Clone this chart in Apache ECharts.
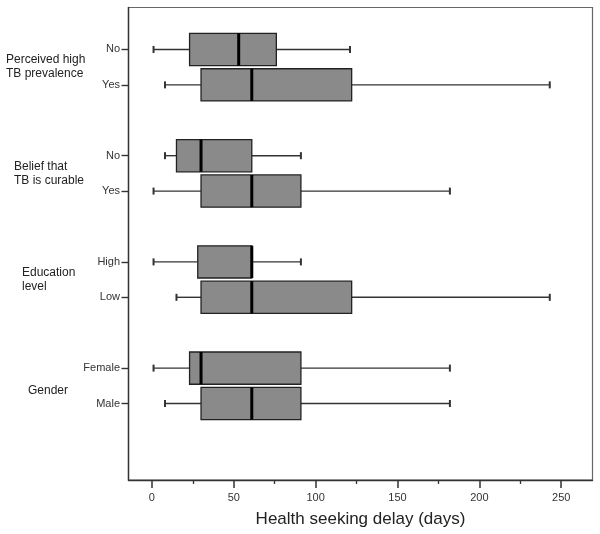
<!DOCTYPE html>
<html>
<head>
<meta charset="utf-8">
<script src="https://cdn.jsdelivr.net/npm/echarts@6/dist/echarts.min.js"></script>
<style>
html,body{margin:0;padding:0;background:#fff;}
#chart{width:600px;height:534px;}
</style>
</head>
<body>
<div id="chart"></div>
<script>
// Groups and their two categories (top to bottom)
var groups = ['Perceived high\nTB prevalence', 'Belief that\nTB is curable', 'Education\nlevel', 'Gender'];
var categories = [['No', 'Yes'], ['No', 'Yes'], ['High', 'Low'], ['Female', 'Male']];
// Box statistics per category: [min, Q1, median, Q3, max] in days
var stats = [
  [[1, 23, 53, 76, 121], [8, 30, 61, 122, 243]],
  [[8, 15, 30, 61, 91], [1, 30, 61, 91, 182]],
  [[1, 28, 61, 61, 91], [15, 30, 61, 122, 243]],
  [[1, 23, 30, 91, 182], [8, 30, 61, 91, 182]]
];
var xTicks = [0, 50, 100, 150, 200, 250];
var xMinorTicks = [25, 75, 125, 175, 225];
var xTitle = 'Health seeking delay (days)';

// build rows: slot index with a gap row between groups
var rows = [];
var labelMap = {};
groups.forEach(function (g, gi) {
  categories[gi].forEach(function (c, ci) {
    var pos = gi * 3 + ci + 1;
    labelMap[pos] = c;
    var s = stats[gi][ci];
    rows.push([pos, s[0], s[1], s[2], s[3], s[4]]);
  });
});
var rowPositions = rows.map(function (r) { return r[0]; });

var chart = echarts.init(document.getElementById('chart'));

function renderBox(params, api) {
  var pos = api.value(0);
  var vmin = api.value(1), q1 = api.value(2), med = api.value(3), q3 = api.value(4), vmax = api.value(5);
  var pMin = api.coord([vmin, pos]);
  var pQ1 = api.coord([q1, pos]);
  var pMed = api.coord([med, pos]);
  var pQ3 = api.coord([q3, pos]);
  var pMax = api.coord([vmax, pos]);
  var h = api.size([0, 0.91])[1];
  var cap = 7;
  var y = pMin[1];
  var lineStyle = { stroke: '#333', lineWidth: 1.4 };
  return {
    type: 'group',
    children: [
      { type: 'line', shape: { x1: pMin[0], y1: y, x2: pQ1[0], y2: y }, style: lineStyle },
      { type: 'line', shape: { x1: pQ3[0], y1: y, x2: pMax[0], y2: y }, style: lineStyle },
      { type: 'line', shape: { x1: pMin[0], y1: y - cap / 2, x2: pMin[0], y2: y + cap / 2 }, style: { stroke: '#333', lineWidth: 2 } },
      { type: 'line', shape: { x1: pMax[0], y1: y - cap / 2, x2: pMax[0], y2: y + cap / 2 }, style: { stroke: '#333', lineWidth: 2 } },
      { type: 'rect', shape: { x: pQ1[0], y: y - h / 2, width: pQ3[0] - pQ1[0], height: h },
        style: { fill: '#8a8a8a', stroke: '#222', lineWidth: 1.3 } },
      { type: 'line', shape: { x1: pMed[0], y1: y - h / 2, x2: pMed[0], y2: y + h / 2 },
        style: { stroke: '#000', lineWidth: 3 } }
    ]
  };
}

var option = {
  backgroundColor: '#fff',
  animation: false,
  grid: { left: 128.5, right: 7.5, top: 7.5, bottom: 54, show: true, borderColor: '#666', borderWidth: 1.2, backgroundColor: 'transparent' },
  xAxis: [{
    type: 'value', min: -14.3, max: 269.1, position: 'bottom',
    splitLine: { show: false },
    axisLine: { show: true, onZero: false, lineStyle: { color: '#333', width: 1.4 } },
    axisTick: { show: true, length: 8, inside: false, customValues: xTicks, lineStyle: { color: '#333', width: 1.5 } },
    axisLabel: { customValues: xTicks, color: '#333', fontSize: 11, fontFamily: 'Liberation Sans', margin: 12 },
    name: xTitle, nameLocation: 'middle', nameGap: 31,
    nameTextStyle: { fontSize: 17, color: '#222', fontFamily: 'Liberation Sans' }
  }, {
    type: 'value', min: -14.3, max: 269.1, position: 'bottom',
    splitLine: { show: false },
    axisLine: { show: false, onZero: false },
    axisTick: { show: true, length: 4, inside: false, customValues: xMinorTicks, lineStyle: { color: '#333', width: 1.3 } },
    axisLabel: { show: false }
  }],
  yAxis: {
    type: 'value', inverse: true, min: -0.185, max: 13.16, position: 'left',
    splitLine: { show: false },
    axisLine: { show: true, onZero: false, lineStyle: { color: '#333', width: 1.4 } },
    axisTick: { show: true, length: 7, inside: false, customValues: rowPositions, lineStyle: { color: '#333', width: 1.4 } },
    axisLabel: {
      customValues: rowPositions, color: '#333', fontSize: 11, fontFamily: 'Liberation Sans', margin: 8.5,
      formatter: function (v) { return labelMap[v] || ''; }
    }
  },
  graphic: [
    { type: 'text', left: 6, top: 53, style: { text: groups[0], font: '12px "Liberation Sans"', fill: '#222', lineHeight: 14 } },
    { type: 'text', left: 14, top: 160, style: { text: groups[1], font: '12px "Liberation Sans"', fill: '#222', lineHeight: 14 } },
    { type: 'text', left: 22, top: 266, style: { text: groups[2], font: '12px "Liberation Sans"', fill: '#222', lineHeight: 14 } },
    { type: 'text', left: 28, top: 384, style: { text: groups[3], font: '12px "Liberation Sans"', fill: '#222', lineHeight: 14 } }
  ],
  series: [{
    type: 'custom',
    renderItem: renderBox,
    encode: { x: [1, 2, 3, 4, 5], y: 0 },
    data: rows,
    clip: false
  }]
};
chart.setOption(option);
</script>
</body>
</html>
